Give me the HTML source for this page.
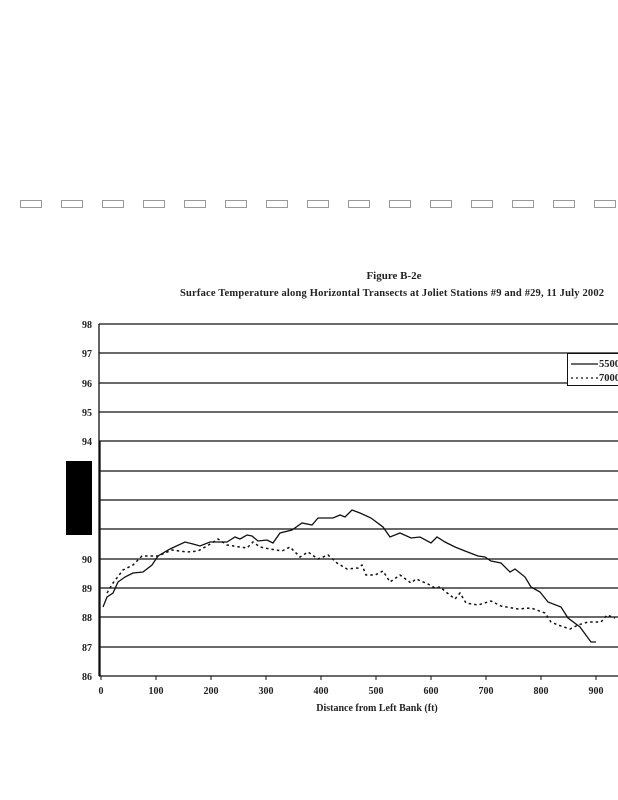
<!DOCTYPE html>
<html><head><meta charset="utf-8"><style>
html,body{margin:0;padding:0;background:#fff;width:618px;height:800px;overflow:hidden}
svg{display:block}
text{font-family:"Liberation Serif",serif;font-weight:bold;fill:#222}
</style></head><body>
<svg width="618" height="800" viewBox="0 0 618 800" xmlns="http://www.w3.org/2000/svg">
<g fill="none" stroke="#999" stroke-width="1">
<rect x="20.5" y="200.5" width="21" height="7"/><rect x="61.5" y="200.5" width="21" height="7"/><rect x="102.5" y="200.5" width="21" height="7"/><rect x="143.5" y="200.5" width="21" height="7"/><rect x="184.5" y="200.5" width="21" height="7"/><rect x="225.5" y="200.5" width="21" height="7"/><rect x="266.5" y="200.5" width="21" height="7"/><rect x="307.5" y="200.5" width="21" height="7"/><rect x="348.5" y="200.5" width="21" height="7"/><rect x="389.5" y="200.5" width="21" height="7"/><rect x="430.5" y="200.5" width="21" height="7"/><rect x="471.5" y="200.5" width="21" height="7"/><rect x="512.5" y="200.5" width="21" height="7"/><rect x="553.5" y="200.5" width="21" height="7"/><rect x="594.5" y="200.5" width="21" height="7"/>
</g>
<text x="394" y="279" font-size="11" text-anchor="middle">Figure B-2e</text>
<text x="392" y="296" font-size="10.5" text-anchor="middle" textLength="424">Surface Temperature along Horizontal Transects at Joliet Stations #9 and #29, 11 July 2002</text>
<g stroke="#111" stroke-width="1.3">
<line x1="99" y1="324" x2="618" y2="324"/><line x1="99" y1="353" x2="618" y2="353"/><line x1="99" y1="383" x2="618" y2="383"/><line x1="99" y1="412" x2="618" y2="412"/><line x1="99" y1="441" x2="618" y2="441"/><line x1="99" y1="471" x2="618" y2="471"/><line x1="99" y1="500" x2="618" y2="500"/><line x1="99" y1="529" x2="618" y2="529"/><line x1="99" y1="559" x2="618" y2="559"/><line x1="99" y1="588" x2="618" y2="588"/><line x1="99" y1="617" x2="618" y2="617"/><line x1="99" y1="647" x2="618" y2="647"/><line x1="99" y1="676" x2="618" y2="676"/>
<line x1="99" y1="324" x2="99" y2="676"/>
<line x1="100" y1="441" x2="100" y2="676"/>
</g>
<g stroke="#111" stroke-width="1">
<line x1="101" y1="676" x2="101" y2="680"/><line x1="156" y1="676" x2="156" y2="680"/><line x1="211" y1="676" x2="211" y2="680"/><line x1="266" y1="676" x2="266" y2="680"/><line x1="321" y1="676" x2="321" y2="680"/><line x1="376" y1="676" x2="376" y2="680"/><line x1="431" y1="676" x2="431" y2="680"/><line x1="486" y1="676" x2="486" y2="680"/><line x1="541" y1="676" x2="541" y2="680"/><line x1="596" y1="676" x2="596" y2="680"/>
</g>
<rect x="66" y="461" width="26" height="74" fill="#000"/>
<g font-size="10" text-anchor="end">
<text x="92" y="328">98</text><text x="92" y="357">97</text><text x="92" y="387">96</text><text x="92" y="416">95</text><text x="92" y="445">94</text><text x="92" y="563">90</text><text x="92" y="592">89</text><text x="92" y="621">88</text><text x="92" y="651">87</text><text x="92" y="680">86</text>
</g>
<g font-size="10" text-anchor="middle">
<text x="101" y="694">0</text><text x="156" y="694">100</text><text x="211" y="694">200</text><text x="266" y="694">300</text><text x="321" y="694">400</text><text x="376" y="694">500</text><text x="431" y="694">600</text><text x="486" y="694">700</text><text x="541" y="694">800</text><text x="596" y="694">900</text>
</g>
<text x="377" y="711" font-size="10" text-anchor="middle">Distance from Left Bank (ft)</text>
<polyline fill="none" stroke="#111" stroke-width="1.3" points="103,607 107,597 113,593 118,582 125,577 133,573 143,572 152,565 158,556 170,549 185,542 193,544 200,546 210,542 227,542 235,537 240,539 247,535 252,536 258,541 267,540 273,543 280,533 292,530 302,523 312,525 318,518 333,518 340,515 345,517 352,510 360,513 371,518 383,527 390,537 400,533 411,538 420,537 431,543 437,537 445,542 455,547 465,551 478,556 485,557 491,561 501,563 510,572 515,569 525,577 531,587 540,592 548,602 561,607 568,618 580,627 591,642 596,642"/>
<polyline fill="none" stroke="#111" stroke-width="1.5" stroke-dasharray="2.5,3" points="107,593 113,583 123,570 133,565 142,556 158,556 172,550 187,552 198,551 207,546 218,539 227,545 240,547 247,548 253,542 260,547 270,549 282,551 290,547 300,557 308,552 318,559 328,555 337,563 347,569 358,568 362,565 366,575 375,575 383,571 390,582 400,575 411,583 416,579 428,584 435,588 440,587 446,592 455,599 460,593 466,603 478,605 491,601 501,606 518,609 531,608 545,613 551,622 558,625 570,629 578,625 588,622 601,622 607,615 615,618"/>
<rect x="567.5" y="353.5" width="60" height="32" fill="#fff" stroke="#111" stroke-width="1"/>
<line x1="571" y1="364" x2="598" y2="364" stroke="#111" stroke-width="1.3"/>
<line x1="571" y1="378" x2="598" y2="378" stroke="#111" stroke-width="1.3" stroke-dasharray="2,3"/>
<text x="599" y="367" font-size="10.5" font-weight="normal">5500</text>
<text x="599" y="381" font-size="10.5" font-weight="normal">7000</text>
</svg>
</body></html>
